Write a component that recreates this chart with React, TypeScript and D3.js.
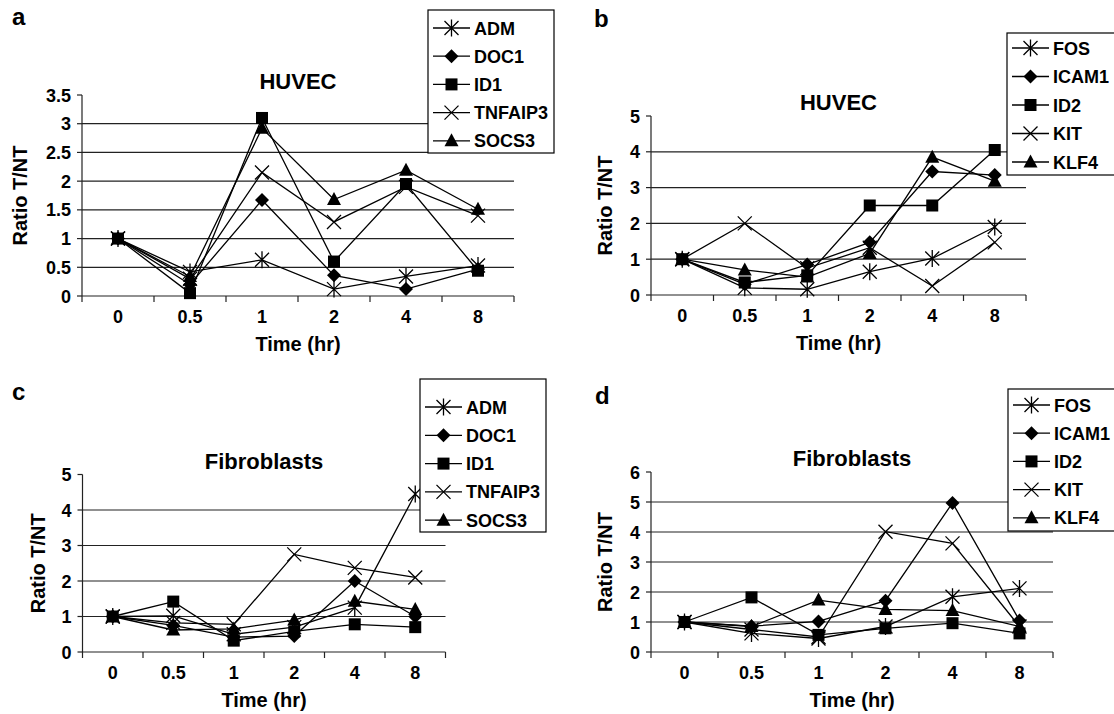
import React from 'react';
import * as d3 from 'd3';

// time points (x categories)
const times = ['0', '0.5', '1', '2', '4', '8'];

const genesA = ['ADM', 'DOC1', 'ID1', 'TNFAIP3', 'SOCS3'];
const genesB = ['FOS', 'ICAM1', 'ID2', 'KIT', 'KLF4'];

// panel a - HUVEC
const huvecADM = [1, 0.42, 0.63, 0.12, 0.34, 0.53];
const huvecDOC1 = [1, 0.2, 1.67, 0.36, 0.12, 0.47];
const huvecID1 = [1, 0.05, 3.1, 0.6, 1.95, 0.44];
const huvecTNFAIP3 = [1, 0.3, 2.15, 1.29, 1.9, 1.4];
const huvecSOCS3 = [1, 0.34, 2.92, 1.68, 2.19, 1.51];

// panel b - HUVEC
const huvecFOS = [1, 0.2, 0.16, 0.65, 1.02, 1.9];
const huvecICAM1 = [1, 0.3, 0.85, 1.47, 3.45, 3.35];
const huvecID2 = [1, 0.35, 0.55, 2.5, 2.5, 4.05];
const huvecKIT = [1, 2.0, 0.75, 1.32, 0.25, 1.47];
const huvecKLF4 = [1, 0.7, 0.5, 1.16, 3.85, 3.18];

// panel c - Fibroblasts
const fibroADM = [1, 1.02, 0.5, 0.7, 1.25, 4.45];
const fibroDOC1 = [1, 0.75, 0.42, 0.45, 2.0, 1.0];
const fibroID1 = [1, 1.42, 0.32, 0.58, 0.78, 0.7];
const fibroTNFAIP3 = [1, 0.82, 0.78, 2.75, 2.37, 2.1];
const fibroSOCS3 = [1, 0.62, 0.65, 0.9, 1.43, 1.2];

// panel d - Fibroblasts
const fibroFOS = [1, 0.62, 0.45, 0.85, 1.84, 2.12];
const fibroICAM1 = [1, 0.86, 1.02, 1.71, 4.97, 1.05];
const fibroID2 = [1, 1.82, 0.57, 0.79, 0.96, 0.62];
const fibroKIT = [1, 0.75, 0.5, 4.01, 3.62, 0.85];
const fibroKLF4 = [1, 0.85, 1.73, 1.42, 1.38, 0.85];

const FONT = 'Liberation Sans, Arial, Helvetica, sans-serif';
const markerKinds = ['asterisk', 'diamond', 'square', 'x', 'triangle'];

function marker(kind: string, cx: number, cy: number, key: string) {
  if (kind === 'square')
    return <rect key={key} x={cx - 6} y={cy - 6} width={12} height={12} fill="#000" />;
  if (kind === 'diamond')
    return <path key={key} d={`M${cx},${cy - 7}L${cx + 7},${cy}L${cx},${cy + 7}L${cx - 7},${cy}Z`} fill="#000" />;
  if (kind === 'triangle')
    return <path key={key} d={`M${cx},${cy - 7.5}L${cx + 7},${cy + 5.5}L${cx - 7},${cy + 5.5}Z`} fill="#000" />;
  let d = `M${cx - 7},${cy - 7}L${cx + 7},${cy + 7}M${cx + 7},${cy - 7}L${cx - 7},${cy + 7}`;
  if (kind === 'asterisk') d += `M${cx},${cy - 8.5}V${cy + 8.5}`;
  return <path key={key} d={d} stroke="#000" strokeWidth={1.3} fill="none" />;
}

type PanelProps = {
  letter: string; letterX: number; letterY: number;
  title: string;
  names: string[];
  values: number[][];
  yMax: number; step: number;
  x0: number; x1: number; yTop: number; yBottom: number;
  yLabelX: number;
  legend: { x: number; y: number; w: number; h: number; first: number; gap: number };
};

function Panel(p: PanelProps) {
  const x = d3.scaleBand().domain(times).range([p.x0, p.x1]);
  const bw = x.bandwidth();
  const cx = (t: string) => (x(t) as number) + bw / 2;
  const y = d3.scaleLinear().domain([0, p.yMax]).range([p.yBottom, p.yTop]);
  const ticks = d3.range(0, p.yMax + p.step / 2, p.step);
  const line = d3.line<number>().x((_, i) => cx(times[i])).y(v => y(v));
  const midX = (p.x0 + p.x1) / 2;
  const lg = p.legend;

  return (
    <g fontFamily={FONT} fontWeight="bold">
      <text x={p.letterX} y={p.letterY} fontSize={24}>{p.letter}</text>
      <text x={midX} y={p.yTop - 6} fontSize={22} textAnchor="middle">{p.title}</text>
      {/* gridlines */}
      {ticks.filter(t => t > 0 && t < p.yMax).map(t => (
        <line key={'g' + t} x1={p.x0} x2={p.x1} y1={y(t)} y2={y(t)} stroke="#222" strokeWidth={1.2} />
      ))}
      {/* y axis */}
      <line x1={p.x0} x2={p.x0} y1={p.yTop} y2={p.yBottom} stroke="#222" strokeWidth={1.2} />
      {ticks.map(t => (
        <g key={'yt' + t}>
          <line x1={p.x0 - 5} x2={p.x0} y1={y(t)} y2={y(t)} stroke="#222" strokeWidth={1.2} />
          <text x={p.x0 - 11} y={y(t) + 6.5} fontSize={18} textAnchor="end">{d3.format('~g')(t)}</text>
        </g>
      ))}
      {/* x axis */}
      <line x1={p.x0} x2={p.x1} y1={p.yBottom} y2={p.yBottom} stroke="#222" strokeWidth={1.2} />
      {d3.range(times.length + 1).map(i => (
        <line key={'xt' + i} x1={p.x0 + i * bw} x2={p.x0 + i * bw} y1={p.yBottom} y2={p.yBottom + 6} stroke="#222" strokeWidth={1.2} />
      ))}
      {times.map(t => (
        <text key={'xl' + t} x={cx(t)} y={p.yBottom + 27} fontSize={18} textAnchor="middle">{t}</text>
      ))}
      <text x={midX} y={p.yBottom + 55} fontSize={20} textAnchor="middle">Time (hr)</text>
      <text transform={`translate(${p.yLabelX},${(p.yTop + p.yBottom) / 2}) rotate(-90)`} fontSize={20} textAnchor="middle">Ratio T/NT</text>
      {/* series */}
      {p.values.map((vals, si) => (
        <g key={'s' + si}>
          <path d={line(vals) as string} fill="none" stroke="#000" strokeWidth={1.3} />
          {vals.map((v, i) => marker(markerKinds[si], cx(times[i]), y(v), `m${si}-${i}`))}
        </g>
      ))}
      {/* legend */}
      <rect x={lg.x} y={lg.y} width={lg.w} height={lg.h} fill="#fff" stroke="#000" strokeWidth={1.2} />
      {p.names.map((n, i) => {
        const ry = lg.first + i * lg.gap;
        return (
          <g key={'l' + n}>
            <line x1={lg.x + 5} x2={lg.x + 42} y1={ry} y2={ry} stroke="#000" strokeWidth={1.3} />
            {marker(markerKinds[i], lg.x + 23.5, ry, 'lm' + i)}
            <text x={lg.x + 46} y={ry + 6.5} fontSize={18}>{n}</text>
          </g>
        );
      })}
    </g>
  );
}

export default function App() {
  return (
    <svg width={1114} height={714} style={{ position: 'absolute', left: 0, top: 0, background: '#fff' }}>
      <rect width={1114} height={714} fill="#fff" />
      <Panel letter="a" letterX={12} letterY={25} title="HUVEC" names={genesA}
        values={[huvecADM, huvecDOC1, huvecID1, huvecTNFAIP3, huvecSOCS3]}
        yMax={3.5} step={0.5} x0={82} x1={514} yTop={95} yBottom={296} yLabelX={27}
        legend={{ x: 428, y: 10, w: 126, h: 143, first: 28, gap: 28.2 }} />
      <Panel letter="b" letterX={594} letterY={27} title="HUVEC" names={genesB}
        values={[huvecFOS, huvecICAM1, huvecID2, huvecKIT, huvecKLF4]}
        yMax={5} step={1} x0={651} x1={1026} yTop={116} yBottom={295} yLabelX={612}
        legend={{ x: 1007, y: 33, w: 120, h: 142, first: 48, gap: 28.5 }} />
      <Panel letter="c" letterX={12} letterY={400} title="Fibroblasts" names={genesA}
        values={[fibroADM, fibroDOC1, fibroID1, fibroTNFAIP3, fibroSOCS3]}
        yMax={5} step={1} x0={82.5} x1={445.5} yTop={474.5} yBottom={652} yLabelX={45}
        legend={{ x: 420, y: 379, w: 126, h: 153, first: 407, gap: 28.3 }} />
      <Panel letter="d" letterX={595} letterY={404} title="Fibroblasts" names={genesB}
        values={[fibroFOS, fibroICAM1, fibroID2, fibroKIT, fibroKLF4]}
        yMax={6} step={1} x0={651} x1={1053} yTop={472} yBottom={652} yLabelX={612}
        legend={{ x: 1008, y: 389, w: 120, h: 142, first: 405, gap: 28.2 }} />
    </svg>
  );
}
